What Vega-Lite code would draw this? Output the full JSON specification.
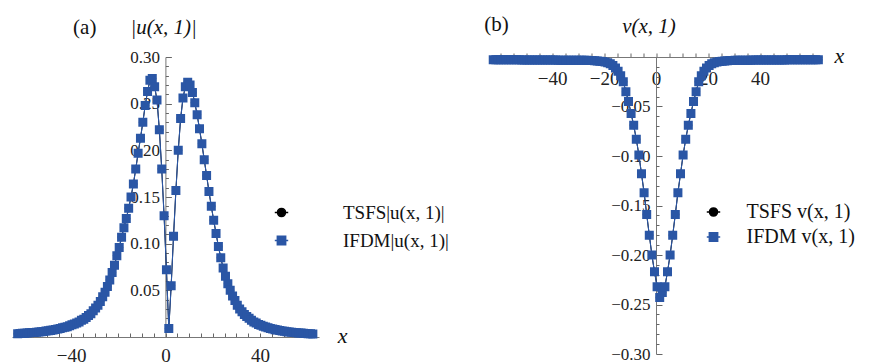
{
  "$schema": "https://vega.github.io/schema/vega-lite/v6.json",
  "padding": {"left": 10, "top": 14, "right": 0, "bottom": 0},
  "bounds": "flush",
  "spacing": 174.5,
  "config": {
    "view": {"stroke": null},
    "axis": {"grid": false, "domainColor": "#777777", "tickColor": "#666666", "labelColor": "#222222", "labelFont": "Liberation Serif", "labelOverlap": false, "labelBound": false, "labelFlush": false},
    "text": {"font": "Liberation Serif"},
    "legend": {"symbolStrokeWidth": 1.5}
  },
  "data": {"values": [
    {"x": -62.6, "u": 0.0036, "v": -0.0028}, {"x": -61.6, "u": 0.0037, "v": -0.0028}, {"x": -60.6, "u": 0.0039, "v": -0.0028},
    {"x": -59.6, "u": 0.0041, "v": -0.0028}, {"x": -58.6, "u": 0.0043, "v": -0.0028}, {"x": -57.6, "u": 0.0045, "v": -0.0029},
    {"x": -56.6, "u": 0.0047, "v": -0.0029}, {"x": -55.6, "u": 0.0049, "v": -0.0029}, {"x": -54.6, "u": 0.0051, "v": -0.0029},
    {"x": -53.6, "u": 0.0054, "v": -0.0029}, {"x": -52.6, "u": 0.0057, "v": -0.0029}, {"x": -51.6, "u": 0.006, "v": -0.003},
    {"x": -50.6, "u": 0.0063, "v": -0.003}, {"x": -49.6, "u": 0.0067, "v": -0.003}, {"x": -48.6, "u": 0.0071, "v": -0.003},
    {"x": -47.6, "u": 0.0075, "v": -0.003}, {"x": -46.6, "u": 0.008, "v": -0.003}, {"x": -45.6, "u": 0.0085, "v": -0.003},
    {"x": -44.6, "u": 0.0091, "v": -0.0031}, {"x": -43.6, "u": 0.0098, "v": -0.0031}, {"x": -42.6, "u": 0.0105, "v": -0.0031},
    {"x": -41.6, "u": 0.011, "v": -0.0031}, {"x": -40.6, "u": 0.012, "v": -0.0031}, {"x": -39.6, "u": 0.013, "v": -0.0031},
    {"x": -38.6, "u": 0.014, "v": -0.0031}, {"x": -37.6, "u": 0.015, "v": -0.0032}, {"x": -36.6, "u": 0.016, "v": -0.0032},
    {"x": -35.6, "u": 0.018, "v": -0.0032}, {"x": -34.6, "u": 0.019, "v": -0.0032}, {"x": -33.6, "u": 0.021, "v": -0.0032},
    {"x": -32.6, "u": 0.023, "v": -0.0032}, {"x": -31.6, "u": 0.025, "v": -0.0032}, {"x": -30.6, "u": 0.028, "v": -0.0032},
    {"x": -29.6, "u": 0.031, "v": -0.0032}, {"x": -28.6, "u": 0.034, "v": -0.0033}, {"x": -27.6, "u": 0.038, "v": -0.0033},
    {"x": -26.6, "u": 0.043, "v": -0.0034}, {"x": -25.6, "u": 0.048, "v": -0.0035}, {"x": -24.6, "u": 0.054, "v": -0.0036},
    {"x": -23.6, "u": 0.061, "v": -0.0038}, {"x": -22.6, "u": 0.069, "v": -0.004}, {"x": -21.6, "u": 0.077, "v": -0.0042},
    {"x": -20.6, "u": 0.087, "v": -0.0045}, {"x": -19.6, "u": 0.096, "v": -0.005}, {"x": -18.6, "u": 0.107, "v": -0.0057},
    {"x": -17.6, "u": 0.117, "v": -0.0068}, {"x": -16.6, "u": 0.127, "v": -0.0085}, {"x": -15.6, "u": 0.138, "v": -0.011},
    {"x": -14.6, "u": 0.15, "v": -0.0145}, {"x": -13.6, "u": 0.164, "v": -0.019}, {"x": -12.6, "u": 0.18, "v": -0.025},
    {"x": -11.6, "u": 0.197, "v": -0.035}, {"x": -10.6, "u": 0.213, "v": -0.045}, {"x": -9.6, "u": 0.23, "v": -0.057},
    {"x": -8.6, "u": 0.248, "v": -0.069}, {"x": -7.6, "u": 0.263, "v": -0.083}, {"x": -6.6, "u": 0.275, "v": -0.099},
    {"x": -5.6, "u": 0.277, "v": -0.118}, {"x": -4.6, "u": 0.268, "v": -0.137}, {"x": -3.6, "u": 0.254, "v": -0.159},
    {"x": -2.6, "u": 0.222, "v": -0.18}, {"x": -1.6, "u": 0.18, "v": -0.2}, {"x": -0.6, "u": 0.13, "v": -0.217},
    {"x": 0.4, "u": 0.072, "v": -0.232}, {"x": 1.4, "u": 0.009, "v": -0.243}, {"x": 2.4, "u": 0.055, "v": -0.238},
    {"x": 3.4, "u": 0.108, "v": -0.232}, {"x": 4.4, "u": 0.157, "v": -0.217}, {"x": 5.4, "u": 0.2, "v": -0.2},
    {"x": 6.4, "u": 0.234, "v": -0.18}, {"x": 7.4, "u": 0.256, "v": -0.159}, {"x": 8.4, "u": 0.268, "v": -0.137},
    {"x": 9.4, "u": 0.273, "v": -0.118}, {"x": 10.4, "u": 0.27, "v": -0.099}, {"x": 11.4, "u": 0.262, "v": -0.083},
    {"x": 12.4, "u": 0.251, "v": -0.069}, {"x": 13.4, "u": 0.238, "v": -0.057}, {"x": 14.4, "u": 0.223, "v": -0.045},
    {"x": 15.4, "u": 0.207, "v": -0.035}, {"x": 16.4, "u": 0.19, "v": -0.025}, {"x": 17.4, "u": 0.173, "v": -0.019},
    {"x": 18.4, "u": 0.156, "v": -0.0145}, {"x": 19.4, "u": 0.14, "v": -0.011}, {"x": 20.4, "u": 0.125, "v": -0.0085},
    {"x": 21.4, "u": 0.111, "v": -0.0068}, {"x": 22.4, "u": 0.097, "v": -0.0057}, {"x": 23.4, "u": 0.085, "v": -0.005},
    {"x": 24.4, "u": 0.074, "v": -0.0045}, {"x": 25.4, "u": 0.065, "v": -0.0042}, {"x": 26.4, "u": 0.057, "v": -0.004},
    {"x": 27.4, "u": 0.05, "v": -0.0038}, {"x": 28.4, "u": 0.044, "v": -0.0036}, {"x": 29.4, "u": 0.039, "v": -0.0035},
    {"x": 30.4, "u": 0.034, "v": -0.0034}, {"x": 31.4, "u": 0.03, "v": -0.0033}, {"x": 32.4, "u": 0.027, "v": -0.0033},
    {"x": 33.4, "u": 0.024, "v": -0.0032}, {"x": 34.4, "u": 0.022, "v": -0.0032}, {"x": 35.4, "u": 0.02, "v": -0.0032},
    {"x": 36.4, "u": 0.018, "v": -0.0032}, {"x": 37.4, "u": 0.016, "v": -0.0031}, {"x": 38.4, "u": 0.015, "v": -0.0031},
    {"x": 39.4, "u": 0.0135, "v": -0.0031}, {"x": 40.4, "u": 0.0125, "v": -0.0031}, {"x": 41.4, "u": 0.0115, "v": -0.0031},
    {"x": 42.4, "u": 0.0106, "v": -0.003}, {"x": 43.4, "u": 0.0098, "v": -0.003}, {"x": 44.4, "u": 0.0091, "v": -0.003},
    {"x": 45.4, "u": 0.0085, "v": -0.003}, {"x": 46.4, "u": 0.0079, "v": -0.003}, {"x": 47.4, "u": 0.0074, "v": -0.003},
    {"x": 48.4, "u": 0.0069, "v": -0.003}, {"x": 49.4, "u": 0.0065, "v": -0.003}, {"x": 50.4, "u": 0.0061, "v": -0.0029},
    {"x": 51.4, "u": 0.0057, "v": -0.0029}, {"x": 52.4, "u": 0.0054, "v": -0.0029}, {"x": 53.4, "u": 0.0051, "v": -0.0029},
    {"x": 54.4, "u": 0.0048, "v": -0.0029}, {"x": 55.4, "u": 0.0046, "v": -0.0029}, {"x": 56.4, "u": 0.0044, "v": -0.0029},
    {"x": 57.4, "u": 0.0042, "v": -0.0029}, {"x": 58.4, "u": 0.004, "v": -0.0028}, {"x": 59.4, "u": 0.0038, "v": -0.0028},
    {"x": 60.4, "u": 0.0036, "v": -0.0028}, {"x": 61.4, "u": 0.0035, "v": -0.0028}, {"x": 62.4, "u": 0.0033, "v": -0.0028}
  ]},
  "resolve": {"scale": {"color": "independent", "shape": "independent"}, "legend": {"color": "independent", "shape": "independent"}},
  "hconcat": [
    {
      "width": 307,
      "height": 280,
      "resolve": {"axis": {"x": "independent", "y": "independent"}},
      "layer": [
        {
          "mark": {"type": "line", "color": "#000000", "strokeWidth": 1},
          "encoding": {
            "x": {"field": "x", "type": "quantitative", "scale": {"domain": [-65, 65], "nice": false, "zero": false},
              "axis": {"title": null, "orient": "bottom", "values": [-60,-55,-50,-45,-40,-35,-30,-25,-20,-15,-10,-5,0,5,10,15,20,25,30,35,40,45,50,55,60],
                "labelExpr": "datum.value % 40 === 0 ? datum.label : ''", "tickSize": -4, "labelPadding": 13, "labelFontSize": 19, "labelFont": "Liberation Serif", "labelOverlap": false}},
            "y": {"field": "u", "type": "quantitative", "scale": {"domain": [0, 0.3], "nice": false},
              "axis": {"title": null, "orient": "left", "offset": -153.4, "labelOverlap": false,
                "values": [0.05, 0.1, 0.15, 0.2, 0.25, 0.3], "format": ".2f",
                "tickSize": -6, "labelPadding": 12, "labelFontSize": 17, "labelFont": "Liberation Serif"}}
          }
        },
        {
          "mark": {"type": "point", "filled": true, "opacity": 1, "size": 178, "strokeWidth": 0},
          "encoding": {
            "x": {"field": "x", "type": "quantitative", "axis": null},
            "y": {"field": "u", "type": "quantitative",
              "axis": {"title": null, "orient": "left", "offset": -153.4, "domain": false, "labels": false, "tickSize": -3,
                "values": [0.01,0.02,0.03,0.04,0.06,0.07,0.08,0.09,0.11,0.12,0.13,0.14,0.16,0.17,0.18,0.19,0.21,0.22,0.23,0.24,0.26,0.27,0.28,0.29]}},
            "color": {"datum": "TSFS", "scale": {"domain": ["TSFS", "IFDM"], "range": ["#000000", "#2a56a5"]},
              "legend": {"orient": "none", "legendX": 260, "legendY": 146, "title": null, "labelFont": "Liberation Serif", "labelFontSize": 19, "labelColor": "#111111",
                "labelOffset": 52, "rowPadding": 8, "symbolSize": 180, "symbolStrokeWidth": 1.5, "labelExpr": "datum.label + '|u(x, 1)|'"}},
            "shape": {"datum": "TSFS", "scale": {"domain": ["TSFS", "IFDM"], "range": ["M-1,0L1,0M0.6,0A0.6,0.6,0,1,1,-0.6,0A0.6,0.6,0,1,1,0.6,0Z", "M-1,0L1,0M-0.62,-0.62L0.62,-0.62L0.62,0.62L-0.62,0.62Z"]},
              "legend": {"orient": "none", "legendX": 260, "legendY": 146, "title": null, "labelFont": "Liberation Serif", "labelFontSize": 19, "labelColor": "#111111",
                "labelOffset": 52, "rowPadding": 8, "symbolSize": 180, "symbolStrokeWidth": 1.5, "labelExpr": "datum.label + '|u(x, 1)|'"}}
          }
        },
        {
          "mark": {"type": "line", "color": "#2a56a5", "strokeWidth": 1.1},
          "encoding": {"x": {"field": "x", "type": "quantitative", "axis": null}, "y": {"field": "u", "type": "quantitative", "axis": null}}
        },
        {
          "mark": {"type": "point", "filled": true, "opacity": 1, "size": 211, "strokeWidth": 0},
          "encoding": {
            "x": {"field": "x", "type": "quantitative", "axis": null},
            "y": {"field": "u", "type": "quantitative", "axis": null},
            "color": {"datum": "IFDM"},
            "shape": {"datum": "IFDM"}
          }
        },
        {
          "data": {"values": [{}]},
          "mark": {"type": "point", "filled": false, "clip": true, "size": 180, "strokeWidth": 1.5},
          "encoding": {
            "x": {"datum": 1000, "type": "quantitative", "axis": null},
            "y": {"datum": 0.1, "type": "quantitative", "axis": null},
            "color": {"datum": "TSFS"},
            "shape": {"datum": "TSFS"}
          }
        },
        {
          "data": {"values": [{}]},
          "mark": {"type": "text", "text": "(a)", "fontSize": 21, "baseline": "middle", "align": "center", "color": "#111111"},
          "encoding": {"x": {"datum": -34.2, "type": "quantitative", "axis": null}, "y": {"datum": 0.331, "type": "quantitative", "axis": null}}
        },
        {
          "data": {"values": [{}]},
          "mark": {"type": "text", "text": "|u(x, 1)|", "fontSize": 21, "fontStyle": "italic", "baseline": "middle", "align": "center", "color": "#111111"},
          "encoding": {"x": {"datum": -0.8, "type": "quantitative", "axis": null}, "y": {"datum": 0.331, "type": "quantitative", "axis": null}}
        },
        {
          "data": {"values": [{}]},
          "mark": {"type": "text", "text": "x", "fontSize": 22, "fontStyle": "italic", "baseline": "middle", "align": "center", "color": "#111111"},
          "encoding": {"x": {"datum": 75, "type": "quantitative", "axis": null}, "y": {"datum": 0.001, "type": "quantitative", "axis": null}}
        }
      ]
    },
    {
      "width": 328.5,
      "height": 297,
      "resolve": {"axis": {"x": "independent", "y": "independent"}},
      "layer": [
        {
          "mark": {"type": "line", "color": "#000000", "strokeWidth": 1},
          "encoding": {
            "x": {"field": "x", "type": "quantitative", "scale": {"domain": [-62.5, 63.8], "nice": false, "zero": false},
              "axis": {"title": null, "orient": "bottom", "offset": -297, "labelOverlap": false, "values": [-60,-55,-50,-45,-40,-35,-30,-25,-20,-15,-10,-5,0,5,10,15,20,25,30,35,40,45,50,55,60],
                "labelExpr": "(datum.value % 20 === 0 && abs(datum.value) <= 40) ? datum.label : ''", "tickSize": -4, "labelPadding": 16, "labelFontSize": 19, "labelFont": "Liberation Serif"}},
            "y": {"field": "v", "type": "quantitative", "scale": {"domain": [-0.3, 0], "nice": false},
              "axis": {"title": null, "orient": "left", "offset": -162.5, "labelOverlap": false,
                "values": [-0.3, -0.25, -0.2, -0.15, -0.1, -0.05], "format": ".2f",
                "tickSize": -6, "labelPadding": 12, "labelFontSize": 17, "labelFont": "Liberation Serif"}}
          }
        },
        {
          "mark": {"type": "point", "filled": true, "opacity": 1, "size": 178, "strokeWidth": 0},
          "encoding": {
            "x": {"field": "x", "type": "quantitative", "axis": null},
            "y": {"field": "v", "type": "quantitative",
              "axis": {"title": null, "orient": "left", "offset": -162.5, "domain": false, "labels": false, "tickSize": -3,
                "values": [-0.29,-0.28,-0.27,-0.26,-0.24,-0.23,-0.22,-0.21,-0.19,-0.18,-0.17,-0.16,-0.14,-0.13,-0.12,-0.11,-0.09,-0.08,-0.07,-0.06,-0.04,-0.03,-0.02,-0.01]}},
            "color": {"datum": "TSFS", "scale": {"domain": ["TSFS", "IFDM"], "range": ["#000000", "#2a56a5"]},
              "legend": {"orient": "none", "legendX": 210, "legendY": 145, "title": null, "labelFont": "Liberation Serif", "labelFontSize": 20, "labelColor": "#111111",
                "labelOffset": 23, "rowPadding": 5, "symbolSize": 180, "symbolStrokeWidth": 1.5, "labelExpr": "datum.label + ' v(x, 1)'"}},
            "shape": {"datum": "TSFS", "scale": {"domain": ["TSFS", "IFDM"], "range": ["M-1,0L1,0M0.6,0A0.6,0.6,0,1,1,-0.6,0A0.6,0.6,0,1,1,0.6,0Z", "M-1,0L1,0M-0.62,-0.62L0.62,-0.62L0.62,0.62L-0.62,0.62Z"]},
              "legend": {"orient": "none", "legendX": 210, "legendY": 145, "title": null, "labelFont": "Liberation Serif", "labelFontSize": 20, "labelColor": "#111111",
                "labelOffset": 23, "rowPadding": 5, "symbolSize": 180, "symbolStrokeWidth": 1.5, "labelExpr": "datum.label + ' v(x, 1)'"}}
          }
        },
        {
          "mark": {"type": "line", "color": "#2a56a5", "strokeWidth": 1.1},
          "encoding": {"x": {"field": "x", "type": "quantitative", "axis": null}, "y": {"field": "v", "type": "quantitative", "axis": null}}
        },
        {
          "mark": {"type": "point", "filled": true, "opacity": 1, "size": 211, "strokeWidth": 0},
          "encoding": {
            "x": {"field": "x", "type": "quantitative", "axis": null},
            "y": {"field": "v", "type": "quantitative", "axis": null},
            "color": {"datum": "IFDM"},
            "shape": {"datum": "IFDM"}
          }
        },
        {
          "data": {"values": [{}]},
          "mark": {"type": "point", "filled": false, "clip": true, "size": 180, "strokeWidth": 1.5},
          "encoding": {
            "x": {"datum": 1000, "type": "quantitative", "axis": null},
            "y": {"datum": -0.1, "type": "quantitative", "axis": null},
            "color": {"datum": "TSFS"},
            "shape": {"datum": "TSFS"}
          }
        },
        {
          "data": {"values": [{}]},
          "mark": {"type": "text", "text": "(b)", "fontSize": 21, "baseline": "middle", "align": "center", "color": "#111111"},
          "encoding": {"x": {"datum": -61.3, "type": "quantitative", "axis": null}, "y": {"datum": 0.0323, "type": "quantitative", "axis": null}}
        },
        {
          "data": {"values": [{}]},
          "mark": {"type": "text", "text": "v(x, 1)", "fontSize": 21, "fontStyle": "italic", "baseline": "middle", "align": "center", "color": "#111111"},
          "encoding": {"x": {"datum": -2.7, "type": "quantitative", "axis": null}, "y": {"datum": 0.0305, "type": "quantitative", "axis": null}}
        },
        {
          "data": {"values": [{}]},
          "mark": {"type": "text", "text": "x", "fontSize": 22, "fontStyle": "italic", "baseline": "middle", "align": "center", "color": "#111111"},
          "encoding": {"x": {"datum": 70.5, "type": "quantitative", "axis": null}, "y": {"datum": 0.001, "type": "quantitative", "axis": null}}
        }
      ]
    }
  ]
}
